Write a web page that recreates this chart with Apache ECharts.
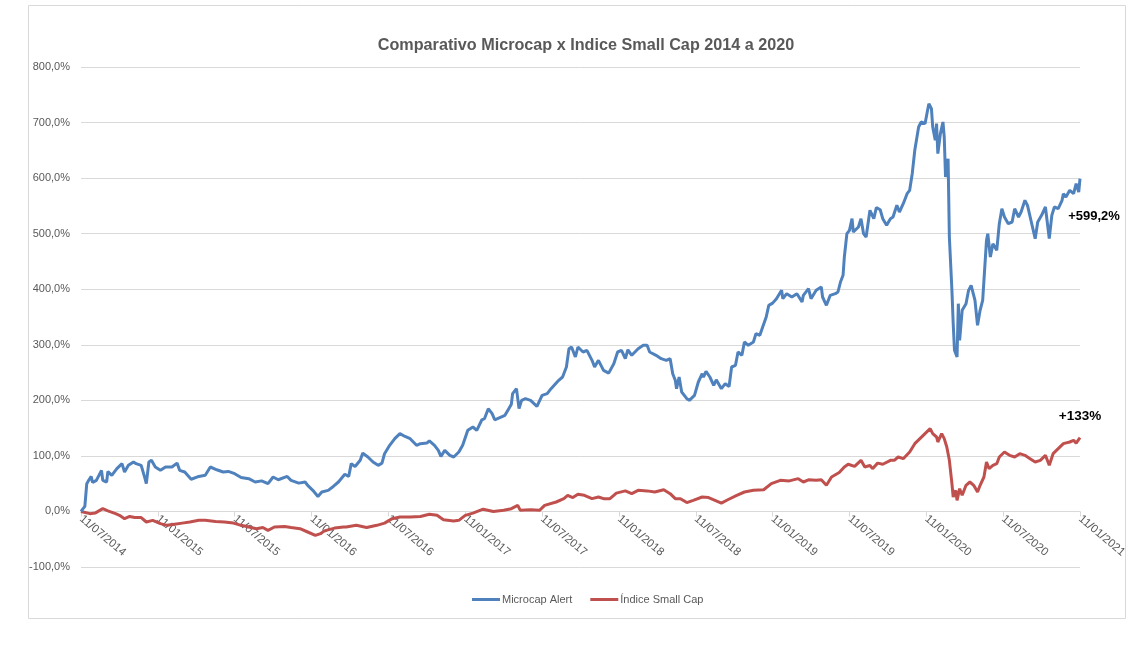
<!DOCTYPE html>
<html>
<head>
<meta charset="utf-8">
<script src="https://cdn.jsdelivr.net/npm/echarts@6/dist/echarts.min.js"></script>
<style>
html,body{margin:0;padding:0;background:#fff;}
#c{width:1141px;height:647px;}
</style>
</head>
<body>
<div id="c"></div>
<script>
// x = months since 11/07/2014, y = cumulative return (%)
var xTickLabels = ["11/07/2014","11/01/2015","11/07/2015","11/01/2016","11/07/2016","11/01/2017","11/07/2017","11/01/2018","11/07/2018","11/01/2019","11/07/2019","11/01/2020","11/07/2020","11/01/2021"];
var seriesNames = ["Microcap Alert", "Índice Small Cap"];
var finalLabels = ["+599,2%", "+133%"];

var microcapData = [
[0.0,0],[0.3,9],[0.45,50],[0.6,56],[0.8,63],[0.9,52],[1.2,56],[1.6,74],[1.7,56],[2.0,53],[2.1,72],[2.4,65],[2.8,77],[3.2,86],[3.4,71],[3.7,83],[4.1,89],[4.3,86],[4.7,83],[5.0,59],[5.1,50],[5.3,89],[5.5,92],[5.8,80],[6.2,74],[6.6,80],[7.1,80],[7.5,87],[7.7,74],[8.1,71],[8.6,58],[9.2,63],[9.7,65],[10.1,80],[10.6,75],[11.1,71],[11.5,72],[12.0,68],[12.5,61],[13.1,59],[13.6,53],[14.1,55],[14.6,50],[15.0,62],[15.4,57],[16.1,63],[16.4,56],[17.0,51],[17.5,53],[17.7,47],[18.1,38],[18.5,27],[18.8,35],[19.3,38],[19.7,45],[20.1,53],[20.6,67],[20.9,63],[21.1,86],[21.4,81],[21.8,92],[22.0,105],[22.4,98],[22.8,89],[23.2,83],[23.5,87],[23.7,104],[24.1,119],[24.5,131],[24.9,140],[25.3,135],[25.7,131],[26.2,119],[26.5,122],[27.0,123],[27.2,127],[27.6,119],[27.9,110],[28.1,99],[28.4,110],[28.8,101],[29.1,98],[29.5,107],[29.8,119],[30.2,146],[30.6,152],[30.9,146],[31.3,165],[31.5,167],[31.8,185],[32.1,176],[32.3,165],[32.7,169],[33.1,173],[33.4,185],[33.6,193],[33.7,212],[34.0,221],[34.2,185],[34.4,200],[34.7,203],[35.1,200],[35.6,189],[36.0,209],[36.4,212],[36.7,221],[37.3,236],[37.6,242],[37.9,260],[38.1,293],[38.3,296],[38.6,278],[38.8,296],[39.2,287],[39.5,290],[39.9,272],[40.1,260],[40.4,272],[40.8,254],[41.2,249],[41.6,266],[41.9,287],[42.2,290],[42.5,275],[42.7,291],[43.0,281],[43.5,293],[43.9,299],[44.2,299],[44.4,287],[44.9,281],[45.3,275],[45.7,272],[46.0,275],[46.2,248],[46.4,236],[46.5,221],[46.7,242],[46.9,215],[47.3,203],[47.5,200],[47.9,209],[48.2,233],[48.5,248],[48.6,242],[48.8,252],[49.1,242],[49.4,227],[49.6,237],[50.0,221],[50.3,230],[50.6,225],[50.8,260],[51.1,263],[51.3,287],[51.6,281],[51.8,305],[52.1,299],[52.5,305],[52.7,320],[53.0,317],[53.3,337],[53.5,350],[53.7,371],[54.0,375],[54.3,383],[54.7,398],[54.8,383],[55.1,392],[55.5,386],[55.9,392],[56.3,377],[56.4,389],[56.8,401],[57.0,383],[57.4,398],[57.8,404],[57.9,386],[58.2,371],[58.5,389],[58.9,392],[59.1,395],[59.3,413],[59.5,425],[59.6,458],[59.8,500],[60.0,506],[60.2,527],[60.3,503],[60.7,512],[60.9,527],[61.1,500],[61.3,494],[61.6,542],[61.9,527],[62.1,547],[62.4,543],[62.6,527],[62.9,515],[63.2,527],[63.4,530],[63.7,551],[63.9,539],[64.2,554],[64.5,572],[64.7,578],[64.9,608],[65.1,650],[65.4,692],[65.6,701],[65.9,698],[66.1,722],[66.2,734],[66.4,725],[66.5,692],[66.7,668],[66.8,698],[66.9,644],[67.1,680],[67.3,701],[67.4,674],[67.5,602],[67.7,635],[67.8,494],[68.0,398],[68.1,338],[68.2,290],[68.4,278],[68.5,374],[68.6,308],[68.8,362],[69.1,374],[69.3,398],[69.5,407],[69.6,410],[69.8,380],[70.0,335],[70.2,362],[70.4,380],[70.5,416],[70.7,488],[70.8,500],[71.0,458],[71.2,482],[71.5,470],[71.7,518],[71.9,545],[72.1,530],[72.4,518],[72.7,521],[72.9,545],[73.2,530],[73.4,539],[73.7,560],[73.9,551],[74.2,521],[74.5,491],[74.7,521],[75.0,533],[75.3,548],[75.6,491],[75.8,533],[76.0,548],[76.3,545],[76.6,560],[76.7,572],[76.9,566],[77.2,578],[77.5,572],[77.7,590],[77.9,575],[78.0,599.2]
];

var smallCapData = [
[0.0,0],[0.7,-4],[1.1,-3],[1.7,5],[2.1,1],[2.7,-4],[3.0,-7],[3.4,-13],[3.8,-9],[4.2,-11],[4.7,-11],[5.1,-19],[5.6,-16],[6.2,-22],[6.7,-25],[7.3,-23],[7.9,-21],[8.5,-19],[9.2,-16],[9.7,-16],[10.5,-18],[11.2,-19],[11.9,-21],[12.5,-25],[13.1,-28],[13.7,-31],[14.2,-29],[14.6,-34],[15.1,-28],[15.9,-27],[16.4,-29],[17.1,-31],[17.7,-37],[18.3,-43],[18.7,-40],[19.0,-35],[19.8,-30],[20.5,-28],[20.7,-28],[21.5,-25],[22.3,-29],[23.1,-25],[23.7,-21],[24.3,-13],[24.9,-10],[25.7,-10],[26.5,-9],[27.2,-5],[27.8,-7],[28.3,-15],[29.1,-17],[29.5,-16],[30.0,-7],[30.6,-3],[31.4,4],[32.2,0],[33.0,2],[33.6,5],[34.1,11],[34.3,2],[35.1,3],[35.8,2],[36.2,11],[37.1,17],[37.7,23],[38.0,29],[38.4,25],[38.8,31],[39.3,29],[39.9,23],[40.4,26],[40.8,23],[41.3,23],[41.8,33],[42.5,37],[43.0,32],[43.5,38],[44.2,37],[44.8,35],[45.5,39],[46.0,32],[46.4,23],[46.8,23],[47.3,16],[47.8,20],[48.5,26],[49.0,25],[49.5,20],[50.0,15],[50.5,21],[51.2,29],[51.8,35],[52.5,38],[53.3,39],[53.9,50],[54.6,56],[55.3,55],[56.0,59],[56.4,53],[56.8,57],[57.4,56],[57.8,57],[58.2,47],[58.6,62],[59.2,70],[59.6,80],[59.9,85],[60.4,81],[60.9,92],[61.2,80],[61.6,83],[61.8,77],[62.2,87],[62.6,85],[63.2,92],[63.5,92],[63.8,98],[64.2,95],[64.7,107],[65.1,122],[65.5,131],[65.9,140],[66.3,149],[66.5,140],[66.8,134],[66.9,125],[67.2,140],[67.4,131],[67.6,116],[67.8,92],[68.0,50],[68.1,26],[68.3,38],[68.4,20],[68.6,41],[68.8,29],[69.1,47],[69.4,53],[69.7,47],[70.0,35],[70.2,47],[70.5,62],[70.7,89],[70.9,77],[71.2,83],[71.5,86],[71.7,98],[72.1,107],[72.5,101],[72.9,98],[73.3,104],[73.7,101],[74.1,95],[74.5,89],[74.9,92],[75.3,101],[75.6,83],[75.9,104],[76.3,113],[76.7,122],[77.2,125],[77.5,128],[77.7,123],[78.0,133]
];

var chart = echarts.init(document.getElementById('c'));
var txt = '#595959';
var font = '"Liberation Sans", Arial, sans-serif';
var gridTop = 67, gridBottom = 80, yMin = -100, yMax = 800;
var zeroOffset = -(0 - yMin) / (yMax - yMin) * (647 - gridTop - gridBottom);

function lastOf(arr){ return arr[arr.length-1]; }

chart.setOption({
  backgroundColor: '#fff',
  animation: false,
  textStyle: { fontFamily: font },
  graphic: [{
    type: 'rect', left: 26, top: 3, shape: { width: 1097, height: 613 },
    style: { fill: 'none', stroke: '#d9d9d9', lineWidth: 1 }, silent: true, z: -10
  }],
  title: {
    text: 'Comparativo Microcap x Indice Small Cap 2014 a 2020',
    left: 581, textAlign: 'center', top: 33,
    textStyle: { color: txt, fontSize: 16.2, fontWeight: 'bold', fontFamily: font }
  },
  legend: {
    top: 589, left: 467,
    itemWidth: 28, itemHeight: 3, itemGap: 18,
    icon: 'rect',
    textStyle: { color: txt, fontSize: 11, fontFamily: font, padding: [0, 0, 0, -3] },
    data: seriesNames
  },
  grid: { left: 81, right: 61, top: gridTop, bottom: gridBottom, containLabel: false },
  xAxis: {
    type: 'value', min: 0, max: 78, interval: 6,
    axisLine: { onZero: false, lineStyle: { color: '#d9d9d9' } },
    offset: zeroOffset,
    axisTick: { show: true, length: 5, lineStyle: { color: '#d9d9d9' } },
    splitLine: { show: false },
    axisLabel: {
      rotate: -40, color: txt, fontSize: 11.5, margin: 6,
      formatter: function (v) { return xTickLabels[Math.round(v / 6)] || ''; }
    }
  },
  yAxis: {
    type: 'value', min: yMin, max: yMax, interval: 100,
    axisLine: { show: false }, axisTick: { show: false },
    splitLine: { lineStyle: { color: '#d9d9d9' } },
    axisLabel: {
      color: txt, fontSize: 11, margin: 11,
      formatter: function (v) { return v.toFixed(1).replace('.', ',') + '%'; }
    }
  },
  series: [{
    name: seriesNames[0], type: 'line', data: microcapData,
    showSymbol: false, symbol: 'none',
    lineStyle: { color: '#4f81bd', width: 3 }, itemStyle: { color: '#4f81bd' },
    z: 3,
    markPoint: {
      symbol: 'circle', symbolSize: 0,
      data: [{ coord: lastOf(microcapData), value: finalLabels[0] }],
      label: { show: true, formatter: finalLabels[0], color: '#000', fontWeight: 'bold', fontSize: 13, offset: [14, 38], fontFamily: font }
    }
  }, {
    name: seriesNames[1], type: 'line', data: smallCapData,
    showSymbol: false, symbol: 'none',
    lineStyle: { color: '#c0504d', width: 3 }, itemStyle: { color: '#c0504d' },
    z: 2,
    markPoint: {
      symbol: 'circle', symbolSize: 0,
      data: [{ coord: lastOf(smallCapData), value: finalLabels[1] }],
      label: { show: true, formatter: finalLabels[1], color: '#000', fontWeight: 'bold', fontSize: 13.5, offset: [0, -21], fontFamily: font }
    }
  }]
});
</script>
</body>
</html>
